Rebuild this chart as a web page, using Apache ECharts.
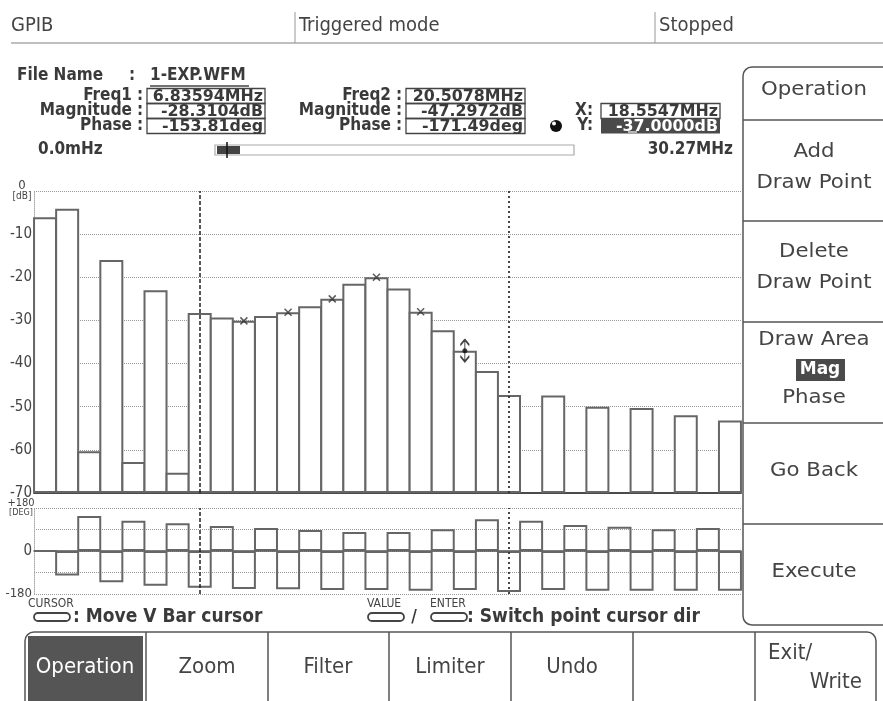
<!DOCTYPE html>
<html><head><meta charset="utf-8">
<script src="https://cdn.jsdelivr.net/npm/echarts@6/dist/echarts.min.js"></script>
<style>html,body{margin:0;padding:0;background:#fff}#c{width:883px;height:701px}</style>
</head><body><div id="c"></div>
<script>
// ---- data ----
const CATEGORIES = ['0','1','2','3','4','5','6','7','8','9','10','11','12','13','14','15',
  '16','17','18','19','20','21','22','23','24','25','26','27','28','29','30','31'];
const MAG_DB = [-6.1, -4.1, -60.3, -16.0, -62.8, -23.0, -65.3, -28.3, -29.3, -30.1, -29.0, -28.1,
  -26.7, -25.0, -21.5, -20.0, -22.6, -28.0, -32.3, -37.0, -41.7, -47.3, null, -47.4,
  null, -50.0, null, -50.3, null, -52.0, null, -53.2];
const PHASE_DEG = [0, -103, 146, -131, 127, -145, 116, -153.8, 105, -159, 96, -160,
  88, -163, 80, -163, 80, -166, 91, -163, 133, -171.5, 127, -163,
  109, -166, 102, -166, 91, -166, 96, -166];
const DRAW_POINTS = ['9', '11', '13', '15', '17'];
const CURSOR_POINT = '19';
const VBAR_CURSORS = ['7', '21'];
const MAG_MIN = -70;
const MAG_TICKS = ['-70', '-60', '-50', '-40', '-30', '-20', '-10', '0'];
const PHASE_TICKS = ['-180', '', '0', '', '+180'];

// ---- styles ----
const COND = '"DejaVu Sans Condensed","Liberation Sans Narrow","Roboto Condensed","DejaVu Sans",sans-serif';
const SANS = '"DejaVu Sans","Noto Sans",sans-serif';
const INK = '#3a3a3a';

function T(x, y, text, o) {
  o = o || {};
  const el = { type: 'text', x: x, y: y, silent: true, z: o.z || 20,
    style: { text: text, fill: o.fill || INK, align: o.align || 'left', verticalAlign: 'middle',
      fontFamily: o.family || COND, fontSize: o.size || 16, fontWeight: o.weight || 'normal' } };
  if (o.sx) el.scaleX = o.sx;
  if (o.sy) el.scaleY = o.sy;
  return el;
}
function L(x1, y1, x2, y2, o) {
  o = o || {};
  return { type: 'line', silent: true, z: o.z || 15, shape: { x1: x1, y1: y1, x2: x2, y2: y2 },
    style: { stroke: o.stroke || '#555', lineWidth: o.w || 1.5 } };
}
function R(x, y, w, h, o) {
  o = o || {};
  return { type: 'rect', silent: true, z: o.z || 15, shape: { x: x, y: y, width: w, height: h, r: o.r || 0 },
    style: { fill: o.fill || 'none', stroke: o.stroke || 'none', lineWidth: o.w || 1.5 } };
}
function M(a, b) { return Object.assign({}, a, b); }

const G = [];
// header
const HD = { size: 20, fill: '#444' };
G.push(T(11, 26, 'GPIB', HD));
G.push(T(299, 26, 'Triggered mode', HD));
G.push(T(659, 26, 'Stopped', HD));
G.push(L(11, 43, 883, 43, { stroke: '#aaa', w: 1.5 }));
G.push(L(295, 12, 295, 43, { stroke: '#999', w: 1 }));
G.push(L(655, 12, 655, 43, { stroke: '#999', w: 1 }));

// file info
const LB = { weight: 'bold', size: 17 };
const VB = { weight: 'bold', size: 16, align: 'right', sx: 1.1 };
G.push(T(17, 76, 'File Name', LB));
G.push(T(132, 76, ':', M(LB, { align: 'center' })));
G.push(T(150, 76, '1-EXP.WFM', LB));
G.push(L(150, 86, 249, 86, { stroke: '#444', w: 1.5 }));
const rowsY = [96, 111, 126];
const col1 = ['Freq1', 'Magnitude', 'Phase'];
const val1 = ['6.83594MHz', '-28.3104dB', '-153.81deg'];
const col2 = ['Freq2', 'Magnitude', 'Phase'];
const val2 = ['20.5078MHz', '-47.2972dB', '-171.49deg'];
for (let i = 0; i < 3; i++) {
  const y = rowsY[i];
  G.push(T(132, y, col1[i], M(LB, { align: 'right' })));
  G.push(T(140, y, ':', M(LB, { align: 'center' })));
  G.push(R(147, y - 7.5, 118, 15, { stroke: '#444', w: 1.3 }));
  G.push(T(263, y + 0.5, val1[i], VB));
  G.push(T(391, y, col2[i], M(LB, { align: 'right' })));
  G.push(T(399, y, ':', M(LB, { align: 'center' })));
  G.push(R(406, y - 7.5, 119, 15, { stroke: '#444', w: 1.3 }));
  G.push(T(523, y + 0.5, val2[i], VB));
}
G.push(T(593, 111, 'X:', M(LB, { align: 'right' })));
G.push(R(601, 103.5, 119, 15, { stroke: '#444', w: 1.3 }));
G.push(T(718, 111.5, '18.5547MHz', VB));
G.push(T(593, 126, 'Y:', M(LB, { align: 'right' })));
G.push(R(601, 118.5, 119, 15, { fill: '#4a4a4a' }));
G.push(T(718, 126.5, '-37.0000dB', M(VB, { fill: '#fff' })));
G.push(L(628, 132, 637, 132, { stroke: '#fff', w: 1.2, z: 22 }));
G.push({ type: 'circle', silent: true, z: 20, shape: { cx: 556, cy: 126, r: 6 }, style: { fill: '#111' } });
G.push({ type: 'circle', silent: true, z: 21, shape: { cx: 554, cy: 123.5, r: 2 }, style: { fill: '#fff' } });
G.push(T(38, 150, '0.0mHz', LB));
G.push(T(733, 150, '30.27MHz', M(LB, { align: 'right' })));
G.push(R(215, 145, 359, 10, { stroke: '#aaa', w: 1.2, fill: '#fff' }));
G.push(R(217, 146, 23, 8, { fill: '#444' }));
G.push(L(227, 142, 227, 158, { stroke: '#111', w: 1.5 }));

// hints row
const SM = { size: 12, fill: '#444' };
const HB = { size: 19, weight: 'bold' };
G.push(T(28, 604, 'CURSOR', SM));
G.push(R(34, 613, 36, 8, { r: 4, stroke: '#444', w: 1.8 }));
G.push(T(73, 617, ': Move V Bar cursor', HB));
G.push(T(367, 604, 'VALUE', SM));
G.push(R(368, 613, 36, 8, { r: 4, stroke: '#444', w: 1.8 }));
G.push(T(414, 618, '/', { size: 17, weight: 'bold', align: 'center' }));
G.push(T(430, 604, 'ENTER', SM));
G.push(R(431, 613, 36, 8, { r: 4, stroke: '#444', w: 1.8 }));
G.push(T(467, 617, ': Switch point cursor dir', HB));

// right panel
G.push(R(743, 67, 220, 558, { r: 9, stroke: '#555', w: 1.5, fill: '#fff', z: 5 }));
[120, 221, 322, 423, 524].forEach(function (y) { G.push(L(743, y, 883, y, { stroke: '#555', w: 1.5 })); });
const RP = { family: SANS, size: 19, align: 'center', sx: 1.12, fill: '#444' };
const PX = 814;
G.push(T(PX, 90, 'Operation', RP));
G.push(T(PX, 152, 'Add', RP));
G.push(T(PX, 183, 'Draw Point', RP));
G.push(T(PX, 252, 'Delete', RP));
G.push(T(PX, 283, 'Draw Point', RP));
G.push(T(PX, 340, 'Draw Area', RP));
G.push(R(796, 359, 49, 22, { fill: '#4a4a4a' }));
G.push(T(PX + 6, 370, 'Mag', M(RP, { fill: '#fff', weight: 'bold', size: 17, sx: 1 })));
G.push(T(PX, 398, 'Phase', RP));
G.push(T(PX, 471, 'Go Back', RP));
G.push(T(PX, 572, 'Execute', RP));

// bottom panel
G.push(R(25, 632, 851, 120, { r: 9, stroke: '#555', w: 1.5, fill: '#fff', z: 5 }));
[146, 268, 389, 511, 633, 755].forEach(function (x) { G.push(L(x, 632, x, 701, { stroke: '#555', w: 1.5 })); });
G.push(R(28, 636, 115, 70, { fill: '#555', z: 16 }));
const BP = { size: 22, align: 'center', fill: '#444' };
G.push(T(85, 667, 'Operation', M(BP, { fill: '#fff' })));
G.push(T(207, 667, 'Zoom', BP));
G.push(T(328, 667, 'Filter', BP));
G.push(T(450, 667, 'Limiter', BP));
G.push(T(572, 667, 'Undo', BP));
G.push(T(768, 653, 'Exit/', M(BP, { align: 'left' })));
G.push(T(862, 682, 'Write', M(BP, { align: 'right' })));

const magData = MAG_DB.map(function (v) { return v === null ? null : v - MAG_MIN; });
const drawData = DRAW_POINTS.map(function (c) { return [c, MAG_DB[+c] - MAG_MIN]; });
const cursorData = [[CURSOR_POINT, MAG_DB[+CURSOR_POINT] - MAG_MIN]];

const labelFont = { fontFamily: COND, color: '#444', fontSize: 15 };
const cursorLines = [
  { xAxis: VBAR_CURSORS[0], lineStyle: { type: [4, 2], color: '#222', width: 1.5 } },
  { xAxis: VBAR_CURSORS[1], lineStyle: { type: [2, 3], color: '#333', width: 1.8 } }
];
const option = {
  animation: false,
  backgroundColor: '#fff',
  grid: [
    { left: 34, top: 191, width: 707, height: 302 },
    { left: 34, top: 508, width: 707, height: 86 }
  ],
  xAxis: [
    { type: 'category', gridIndex: 0, data: CATEGORIES,
      axisLine: { lineStyle: { color: '#4a4a4a', width: 2 } },
      axisTick: { show: false }, axisLabel: { show: false }, splitLine: { show: false } },
    { type: 'category', gridIndex: 1, data: CATEGORIES,
      axisLine: { onZero: true, lineStyle: { color: '#555', width: 1.5 } },
      axisTick: { show: false }, axisLabel: { show: false }, splitLine: { show: false } }
  ],
  yAxis: [
    { type: 'value', gridIndex: 0, min: 0, max: 70, interval: 10,
      axisLine: { show: true, lineStyle: { color: '#aaa', type: 'dotted', width: 1 } },
      axisTick: { show: false },
      splitLine: { lineStyle: { color: '#999', type: 'dotted', width: 1 } },
      axisLabel: M({ margin: 2,
        formatter: function (v) {
          const i = Math.round(v / 10);
          return i === 7 ? '{a|' + MAG_TICKS[i] + '}\n{u|[dB]}' : MAG_TICKS[i];
        },
        rich: { a: { fontSize: 13, width: 20, align: 'center', lineHeight: 11, fontFamily: COND, color: '#444' },
                u: { fontSize: 10, width: 20, align: 'center', lineHeight: 10, fontFamily: COND, color: '#444' } }
      }, labelFont) },
    { type: 'value', gridIndex: 1, min: -180, max: 180, interval: 90,
      axisLine: { show: true, lineStyle: { color: '#aaa', type: 'dotted', width: 1 } },
      axisTick: { show: false },
      splitLine: { lineStyle: { color: '#999', type: 'dotted', width: 1 } },
      axisLabel: M({ margin: 2,
        formatter: function (v) {
          const i = Math.round((v + 180) / 90);
          if (i === 4) return '{a|' + PHASE_TICKS[i] + '}\n{u|[DEG]}';
          if (i === 0) return '{b|' + PHASE_TICKS[i] + '}';
          return PHASE_TICKS[i];
        },
        rich: { a: { fontSize: 11, width: 22, align: 'center', lineHeight: 9, fontFamily: COND, color: '#444' },
                u: { fontSize: 9, width: 22, align: 'center', lineHeight: 9, fontFamily: COND, color: '#444' },
                b: { fontSize: 13, fontFamily: COND, color: '#444' } }
      }, labelFont) }
  ],
  series: [
    { type: 'bar', xAxisIndex: 0, yAxisIndex: 0, data: magData, barWidth: 24,
      itemStyle: { color: '#fff', borderColor: '#666', borderWidth: 2 },
      markLine: { silent: true, symbol: ['none', 'none'], label: { show: false }, data: cursorLines } },
    { type: 'bar', xAxisIndex: 1, yAxisIndex: 1, data: PHASE_DEG, barWidth: 24,
      itemStyle: { color: 'rgba(255,255,255,0)', borderColor: '#666', borderWidth: 2 },
      markLine: { silent: true, symbol: ['none', 'none'], label: { show: false }, data: cursorLines } },
    { type: 'scatter', xAxisIndex: 0, yAxisIndex: 0, data: drawData, z: 5,
      symbol: 'path://M0,0L10,10M10,0L0,10', symbolSize: 7,
      itemStyle: { color: 'none', borderColor: '#333', borderWidth: 1.5 } },
    { type: 'scatter', xAxisIndex: 0, yAxisIndex: 0, data: cursorData, z: 6,
      symbol: 'path://M5,0L1,6M5,0L9,6M5,0L5,24M1,18L5,24L9,18', symbolSize: [9, 22],
      itemStyle: { color: 'none', borderColor: '#111', borderWidth: 1.5 } },
    { type: 'scatter', xAxisIndex: 0, yAxisIndex: 0, data: cursorData, z: 7,
      symbol: 'circle', symbolSize: 5, itemStyle: { color: '#111' } }
  ],
  graphic: { elements: G }
};
const chart = echarts.init(document.getElementById('c'), null, { renderer: 'canvas' });
chart.setOption(option);
</script>
</body></html>
